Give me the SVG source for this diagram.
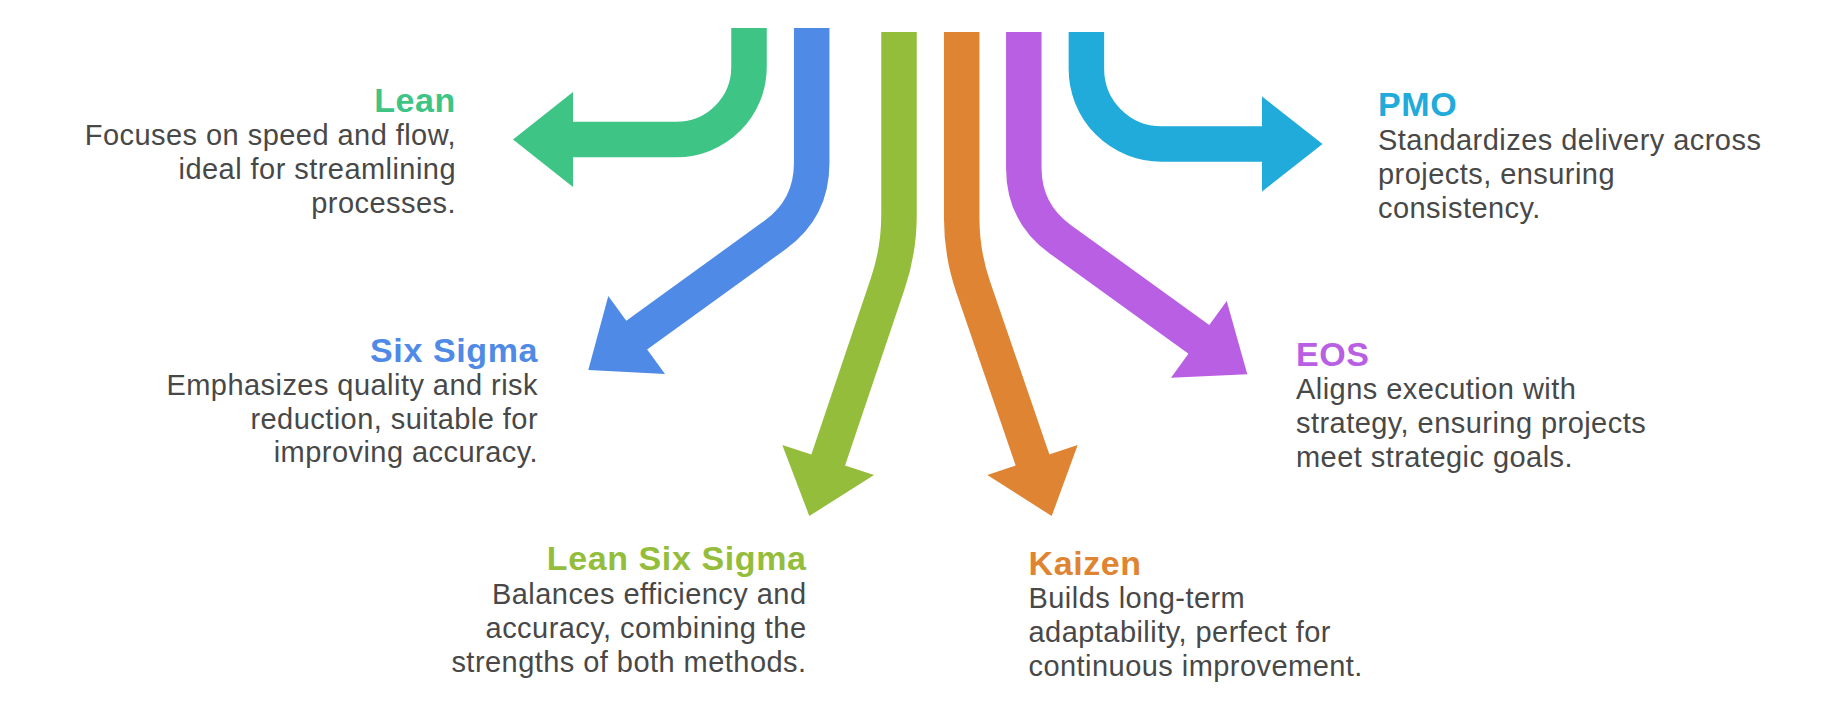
<svg xmlns="http://www.w3.org/2000/svg" width="1843" height="720" viewBox="0 0 1843 720">
<style>
.shaft{fill:none;stroke-width:35.5;stroke-linecap:butt;stroke-linejoin:round}
.title{font-family:"Liberation Sans",Arial,Helvetica,sans-serif;font-weight:bold;font-size:34px;letter-spacing:0.6px}
.body{font-family:"Liberation Sans",Arial,Helvetica,sans-serif;font-size:29px;letter-spacing:0.45px;fill:#484848}
.r{text-anchor:end}
</style>
<rect width="1843" height="720" fill="#ffffff"/>
<g id="connectors">
  <g id="arrow-lean">
    <path class="shaft" stroke="#3EC585" d="M749,28 V67 A72.5 72.5 0 0 1 676.5,139.5 H570"/>
    <polygon fill="#3EC585" points="573,92 513,139.5 573,187"/>
  </g>
  <g id="arrow-sixsigma">
    <path class="shaft" stroke="#4F8AE6" d="M811.7,28 V163 Q811.7,208.5 775.2,234.9 L632.9,337.8"/>
    <polygon fill="#4F8AE6" points="608.3,296 588.3,370 665,374"/>
  </g>
  <g id="arrow-lss">
    <path class="shaft" stroke="#94BD3B" d="M899,32 V215 Q899,250.2 887.8,283.4 L826.9,463.9"/>
    <polygon fill="#94BD3B" points="782.3,445 809.3,516 874,475"/>
  </g>
  <g id="arrow-kaizen">
    <path class="shaft" stroke="#DF8432" d="M961.7,32 V218 Q961.7,253.6 973.1,286.7 L1033.9,464"/>
    <polygon fill="#DF8432" points="1077.7,445 1051.7,516 987.3,475"/>
  </g>
  <g id="arrow-eos">
    <path class="shaft" stroke="#B95FE3" d="M1023.8,32 V168 Q1023.8,213 1060.3,239.3 L1202.7,342.1"/>
    <polygon fill="#B95FE3" points="1226.7,301 1247.3,374.3 1171,377.7"/>
  </g>
  <g id="arrow-pmo">
    <path class="shaft" stroke="#21ABDA" d="M1086.4,32 V69 A75 75 0 0 0 1161.4,144 H1266"/>
    <polygon fill="#21ABDA" points="1262,96.5 1322.5,144 1262,191.5"/>
  </g>
</g>
<g id="node-lean">
  <text class="title r" x="456" y="111.5" fill="#3EC585">Lean</text>
  <text class="body r" x="456" y="145">Focuses on speed and flow,</text>
  <text class="body r" x="456" y="179">ideal for streamlining</text>
  <text class="body r" x="456" y="213">processes.</text>
</g>
<g id="node-sixsigma">
  <text class="title r" x="538" y="361.5" fill="#4F8AE6">Six Sigma</text>
  <text class="body r" x="538" y="394.5">Emphasizes quality and risk</text>
  <text class="body r" x="538" y="428.5">reduction, suitable for</text>
  <text class="body r" x="538" y="462">improving accuracy.</text>
</g>
<g id="node-lss">
  <text class="title r" x="806.5" y="569.5" fill="#94BD3B">Lean Six Sigma</text>
  <text class="body r" x="806.5" y="604">Balances efficiency and</text>
  <text class="body r" x="806.5" y="638">accuracy, combining the</text>
  <text class="body r" x="806.5" y="672">strengths of both methods.</text>
</g>
<g id="node-kaizen">
  <text class="title" x="1028.5" y="575" fill="#DF8432">Kaizen</text>
  <text class="body" x="1028.5" y="607.5">Builds long-term</text>
  <text class="body" x="1028.5" y="641.5">adaptability, perfect for</text>
  <text class="body" x="1028.5" y="675.5">continuous improvement.</text>
</g>
<g id="node-eos">
  <text class="title" x="1296" y="365.5" fill="#B95FE3">EOS</text>
  <text class="body" x="1296" y="399">Aligns execution with</text>
  <text class="body" x="1296" y="433">strategy, ensuring projects</text>
  <text class="body" x="1296" y="467">meet strategic goals.</text>
</g>
<g id="node-pmo">
  <text class="title" x="1378" y="116" fill="#21ABDA">PMO</text>
  <text class="body" x="1378" y="150">Standardizes delivery across</text>
  <text class="body" x="1378" y="184">projects, ensuring</text>
  <text class="body" x="1378" y="218">consistency.</text>
</g>
</svg>
